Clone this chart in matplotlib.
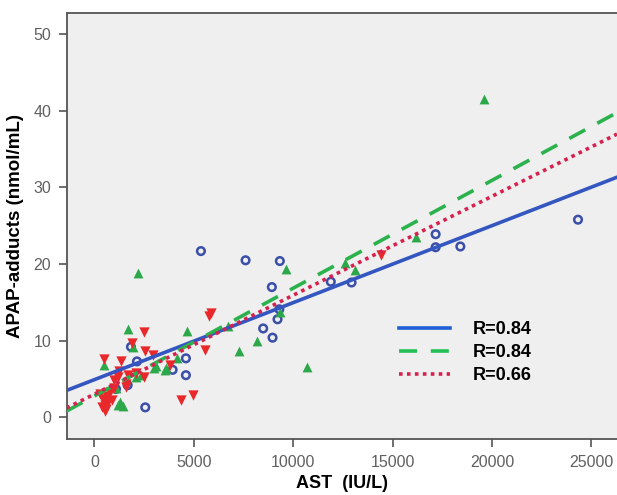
import matplotlib
matplotlib.use("Agg")
import matplotlib.pyplot as plt
import numpy as np

plt.rcParams['font.family'] = ['Liberation Sans', 'DejaVu Sans']

# ---- data ----
blue_x = [5355, 7602, 9326, 8924, 11890, 12935, 17164, 17164, 18408, 24328,
          9210, 9300, 8487, 8959, 1835, 2137, 1081, 1668, 2555, 3932, 4600, 4600]
blue_y = [21.7, 20.5, 20.4, 17.0, 17.7, 17.6, 23.9, 22.2, 22.3, 25.8,
          12.8, 14.1, 11.6, 10.4, 9.2, 7.3, 3.7, 4.2, 1.3, 6.2, 7.7, 5.5]

green_x = [19602, 2213, 9650, 12594, 13097, 16199, 10668, 7280, 8155, 4635,
           1668, 1920, 6712, 9326, 493, 3595, 3092, 4163, 3545, 1081,
           1166, 1417, 1300, 2338, 3007, 2100]
green_y = [41.6, 18.8, 19.3, 20.1, 19.2, 23.6, 6.6, 8.6, 9.9, 11.3,
           11.5, 9.2, 11.9, 13.8, 6.8, 6.4, 6.7, 7.7, 6.2, 3.8,
           1.6, 1.5, 2.0, 5.5, 6.4, 5.2]

red_x = [493, 1332, 1885, 2505, 2539, 2925, 2505, 1584, 996, 1250,
         1700, 3796, 5772, 5850, 5556, 4333, 4937, 14404,
         300, 450, 520, 600, 700, 400, 650, 800, 550, 900, 1000, 1600, 1200, 2100]
red_y = [7.6, 7.3, 9.7, 11.1, 8.6, 8.1, 5.2, 4.4, 4.9, 6.0,
         5.5, 6.8, 13.2, 13.6, 8.8, 2.2, 2.9, 21.2,
         3.0, 2.4, 1.6, 1.1, 2.0, 1.3, 2.8, 3.3, 0.8, 2.2, 3.8, 4.0, 5.2, 5.8]

# fitted lines: (intercept, slope)
fit_labels = ["R=0.84", "R=0.84", "R=0.66"]
fit_intercepts = [4.92, 2.79, 3.03]
fit_slopes = [0.001005, 0.001407, 0.001291]

x_ticks = [0, 5000, 10000, 15000, 20000, 25000]
y_ticks = [0, 10, 20, 30, 40, 50]

# ---- figure ----
fig = plt.figure(figsize=(6.17, 4.95), dpi=100)
W, H = 617, 495
left_px, right_px, top_px, bottom_px = 66.5, 617, 13.3, 439.3
ax = fig.add_axes([left_px / W, 1 - bottom_px / H,
                   (right_px - left_px) / W, (bottom_px - top_px) / H])
ax.set_facecolor('#efefef')
xlim = (-1408, 26290)
ylim = (-2.87, 52.74)
ax.set_xlim(*xlim)
ax.set_ylim(*ylim)

ax.scatter(blue_x, blue_y, s=30, facecolors='none', edgecolors='#3b4ea8',
           linewidths=1.8, zorder=3)
ax.scatter(green_x, green_y, s=50, marker='^', color='#2ca84a',
           linewidths=0, zorder=3)
ax.scatter(red_x, red_y, s=55, marker='v', color='#e8282b',
           linewidths=0, zorder=3)

xx = np.array(xlim)
line_styles = [
    dict(color='#3356c0', lw=2.6, ls='-'),
    dict(color='#2cb24d', lw=2.6, ls=(0, (5, 3.8))),
    dict(color='#d8204e', lw=2.6, ls=(0, (1, 1.2))),
]
handles = []
for b, m, lab, st in zip(fit_intercepts, fit_slopes, fit_labels, line_styles):
    h, = ax.plot(xx, b + m * xx, label=lab, zorder=4, **st)
    handles.append(h)

leg = ax.legend(handles=handles, loc='upper left',
                bbox_to_anchor=((392 - left_px) / (right_px - left_px),
                                1 - (314 - top_px) / (bottom_px - top_px)),
                frameon=False, handlelength=2.8, handletextpad=1.3,
                labelspacing=0.33, borderaxespad=0,
                prop=dict(weight='bold', size=13))
leg.get_lines()[0].set_color('#1f5fd6')
leg.get_lines()[1].set_color('#22c055')

ax.set_xticks(x_ticks)
ax.set_yticks(y_ticks)
ax.tick_params(axis='both', direction='out', length=6, width=1.2,
               color='#555555', labelcolor='#606060', labelsize=11.5, pad=5)
for s in ['left', 'bottom', 'top']:
    ax.spines[s].set_color('#555555')
    ax.spines[s].set_linewidth(1.3)
ax.spines['right'].set_visible(False)

ax.set_xlabel('AST  (IU/L)', fontsize=13, fontweight='bold', labelpad=4)
ax.set_ylabel('APAP-adducts (nmol/mL)', fontsize=13.5, fontweight='bold', labelpad=7)

fig.savefig('out.png', dpi=100)
